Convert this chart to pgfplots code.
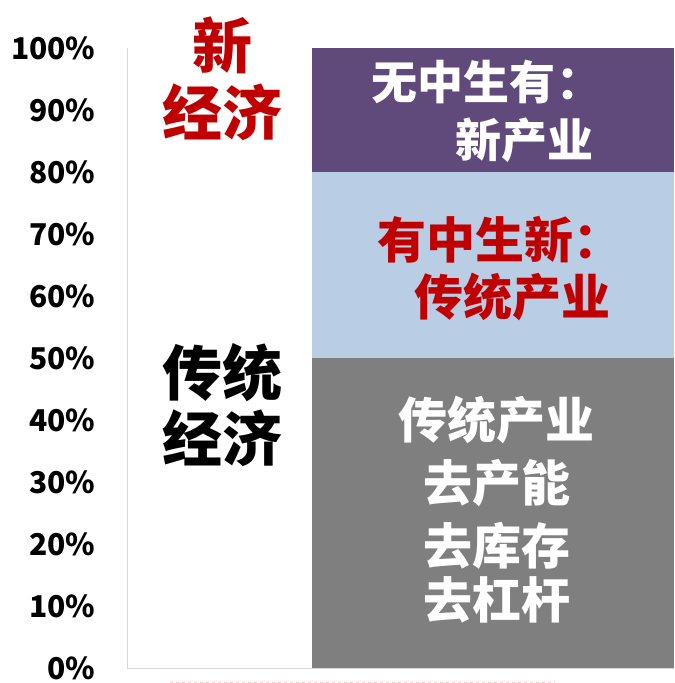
\documentclass[border=0pt]{standalone}
\usepackage{pgfplots}
\pgfplotsset{compat=1.18}
\usepackage{fontspec}
\setmainfont{Noto Sans CJK SC}
\definecolor{newpurple}{RGB}{96,74,123}
\definecolor{midblue}{RGB}{185,205,229}
\definecolor{oldgray}{RGB}{127,127,127}
\definecolor{darkred}{RGB}{192,0,0}
\definecolor{axisgray}{RGB}{217,217,217}
\definecolor{pinkdash}{RGB}{250,205,205}

\begin{document}
\begin{tikzpicture}
\begin{axis}[
  scale only axis, width=547pt, height=620pt,
  xmin=0, xmax=1, ymin=0, ymax=100,
  axis x line=bottom, axis y line=left,
  axis line style={draw=axisgray, line width=1pt, -},
  xtick=\empty,
  ytick={0,10,...,100},
  yticklabels={0\%,10\%,20\%,30\%,40\%,50\%,60\%,70\%,80\%,90\%,100\%},
  major tick length=0pt,
  yticklabel style={font=\fontsize{30}{30}\selectfont\bfseries, xshift=-28pt},
  ybar stacked, bar width=0.662,
  clip=false,
]
\addplot[fill=oldgray, draw=none] coordinates {(0.669,50)};
\addplot[fill=midblue, draw=none] coordinates {(0.669,30)};
\addplot[fill=newpurple, draw=none] coordinates {(0.669,20)};

\coordinate (l1) at (axis cs:0.174,100.5);
\coordinate (l2) at (axis cs:0.174,89.7);
\coordinate (l3) at (axis cs:0.174,47.7);
\coordinate (l4) at (axis cs:0.174,37.1);
\coordinate (b1) at (axis cs:0.658,94.5);
\coordinate (b2) at (axis cs:0.726,85.2);
\coordinate (b3) at (axis cs:0.682,69.0);
\coordinate (b4) at (axis cs:0.704,59.8);
\coordinate (b5) at (axis cs:0.676,40.0);
\coordinate (b6) at (axis cs:0.676,29.8);
\coordinate (b7) at (axis cs:0.676,19.8);
\coordinate (b8) at (axis cs:0.676,11.0);
\coordinate (d1) at (axis cs:0.079,-2.3);
\coordinate (d2) at (axis cs:0.782,-2.3);
\coordinate (top) at (rel axis cs:0.5,1);
\coordinate (orig) at (rel axis cs:0,0);
\end{axis}

% left column
\node[text=darkred, font=\fontsize{60}{60}\selectfont\bfseries] at (l1) {新};
\node[text=darkred, font=\fontsize{60}{60}\selectfont\bfseries] at (l2) {经济};
\node[text=black, font=\fontsize{60}{60}\selectfont\bfseries] at (l3) {传统};
\node[text=black, font=\fontsize{60}{60}\selectfont\bfseries] at (l4) {经济};

% bar labels
\node[text=white, font=\fontsize{46}{46}\selectfont\bfseries] at (b1) {无中生有：};
\node[text=white, font=\fontsize{46}{46}\selectfont\bfseries] at (b2) {新产业};
\node[text=darkred, font=\fontsize{49}{49}\selectfont\bfseries] at (b3) {有中生新：};
\node[text=darkred, font=\fontsize{49}{49}\selectfont\bfseries] at (b4) {传统产业};
\node[text=white, font=\fontsize{49}{49}\selectfont\bfseries] at (b5) {传统产业};
\node[text=white, font=\fontsize{49}{49}\selectfont\bfseries] at (b6) {去产能};
\node[text=white, font=\fontsize{49}{49}\selectfont\bfseries] at (b7) {去库存};
\node[text=white, font=\fontsize{49}{49}\selectfont\bfseries] at (b8) {去杠杆};

\draw[pinkdash, dashed, line width=1pt] (d1) -- (d2);
\path (top) -- ++(0,48pt);
\path (orig) -- ++(-127pt,0);
\end{tikzpicture}
\end{document}
